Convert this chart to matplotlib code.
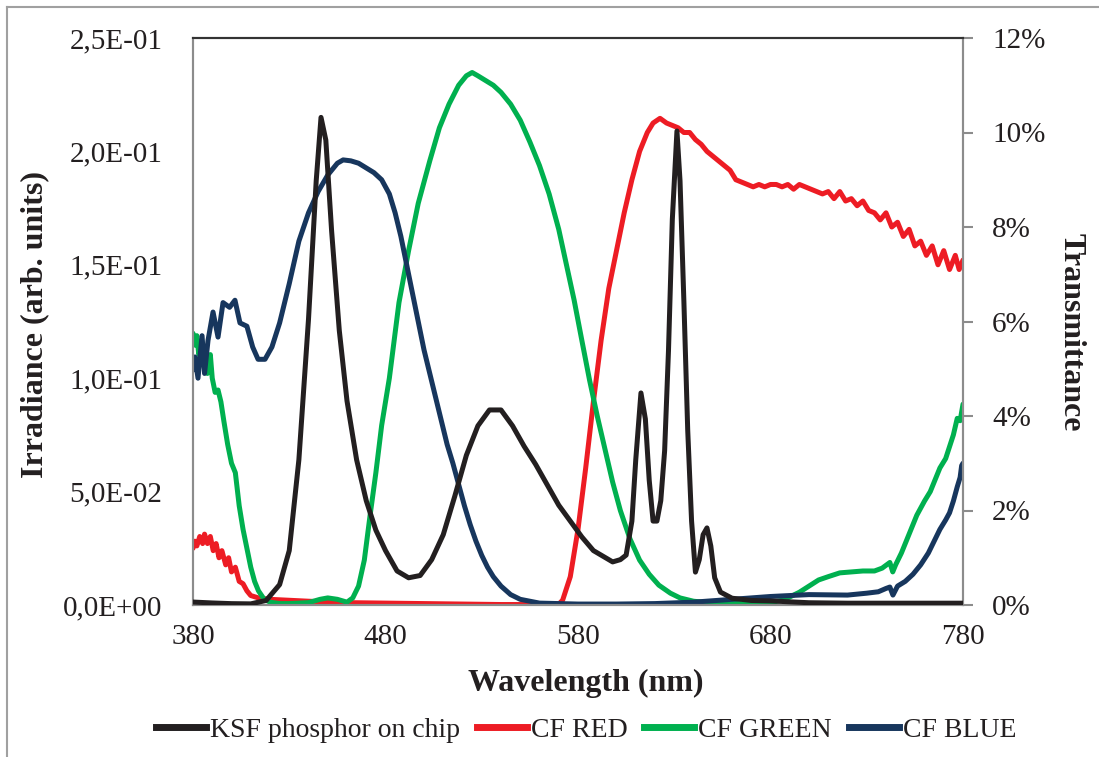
import matplotlib

matplotlib.use('Agg')
import matplotlib.pyplot as plt
from matplotlib.lines import Line2D

# KSF phosphor on chip, irradiance (left axis)
ksf_wl = [380, 390, 400, 410, 418, 425, 430, 435, 440, 444, 446.5, 449, 452, 456, 460,
          465, 470, 475, 480, 486, 492, 498, 504, 510, 516, 522, 528, 534, 540, 546,
          552, 558, 564, 570, 576, 582, 588, 594, 598, 602, 605, 608, 610, 612.7, 615,
          617, 619, 621, 623, 625, 627, 629, 631.4, 633, 635, 637, 639, 641, 643, 645,
          647, 649, 651, 654, 660, 670, 680, 700, 720, 740, 760, 780]
ksf_irr = [0.0013, 0.0009, 0.0006, 0.0005, 0.002, 0.009, 0.024, 0.064, 0.126, 0.187, 0.215,
           0.205, 0.165, 0.121, 0.090, 0.064, 0.046, 0.033, 0.024, 0.015, 0.012, 0.013,
           0.020, 0.031, 0.048, 0.066, 0.079, 0.086, 0.086, 0.079, 0.070, 0.062, 0.053,
           0.044, 0.037, 0.030, 0.024, 0.021, 0.019, 0.020, 0.022, 0.037, 0.064, 0.0935,
           0.082, 0.055, 0.037, 0.037, 0.046, 0.068, 0.112, 0.170, 0.209, 0.187, 0.134,
           0.077, 0.037, 0.0145, 0.020, 0.031, 0.034, 0.026, 0.012, 0.0057, 0.003, 0.002,
           0.0018, 0.001, 0.0008, 0.0008, 0.0008, 0.0008]

# colour filter transmittance in % (right axis)
red_wl = [380, 381, 382, 383.5, 385, 386, 387.5, 389, 390.5, 392, 393.5, 395, 397, 398.5,
          400, 402, 404, 406, 408, 410, 414, 420, 430, 440, 460, 480, 500, 520, 540, 560,
          570, 572, 576, 580, 584, 588, 592, 596, 600, 604, 608, 612, 616, 619, 622.6,
          626, 629, 632, 635, 638, 641, 644, 647, 650, 653, 656, 659, 662, 665, 668, 671,
          674, 677, 680, 683, 686, 689, 692, 695, 698, 701, 704, 707, 710, 713, 716, 719,
          722, 725, 728, 731, 734, 737, 740, 743, 746, 749, 752, 755, 758, 761, 764, 767,
          770, 773, 776, 778, 780]
red_tr = [1.2, 1.35, 1.25, 1.45, 1.3, 1.5, 1.3, 1.45, 1.15, 1.3, 1.0, 1.15, 0.85, 1.0,
          0.7, 0.8, 0.5, 0.45, 0.3, 0.2, 0.15, 0.12, 0.1, 0.08, 0.05, 0.04, 0.03, 0.02,
          0.01, 0.01, 0.02, 0.1, 0.6, 1.6, 2.9, 4.3, 5.6, 6.7, 7.5, 8.3, 9.0, 9.6, 10.0,
          10.2, 10.3, 10.2, 10.15, 10.1, 10.0, 10.0, 9.85, 9.75, 9.6, 9.5, 9.4, 9.3, 9.2,
          9.0, 8.95, 8.9, 8.85, 8.9, 8.85, 8.9, 8.9, 8.85, 8.9, 8.8, 8.9, 8.85, 8.8, 8.75,
          8.7, 8.75, 8.6, 8.75, 8.55, 8.6, 8.45, 8.55, 8.35, 8.3, 8.15, 8.3, 8.0, 8.1,
          7.8, 7.95, 7.6, 7.7, 7.4, 7.6, 7.2, 7.5, 7.1, 7.4, 7.1, 7.3]

green_wl = [380, 381, 382, 383, 384.5, 386, 387.5, 389, 390, 391.5, 393, 394.5, 396, 398,
            400, 402, 404, 406, 408, 410, 412, 414, 417, 420, 425, 430, 440, 446, 450,
            455, 460, 463, 466, 469, 472, 475, 478, 482, 487, 492, 497, 503, 508, 513,
            518, 522, 525, 528, 532, 536, 540, 545, 550, 555, 560, 565, 570, 574, 578,
            582, 586, 590, 594, 598, 602, 607, 612, 617, 622, 628, 633, 640, 650, 665,
            680, 686, 690, 695, 700, 705, 710, 716, 722, 728, 734, 738, 742, 743.5, 745,
            748, 752, 756, 760, 763, 766, 768, 771, 773, 775, 777, 778.5, 780]
green_tr = [5.75, 5.5, 5.7, 5.3, 5.6, 5.0, 4.9, 5.3, 4.8, 4.5, 4.55, 4.3, 3.9, 3.4,
            3.0, 2.8, 2.1, 1.6, 1.2, 0.8, 0.5, 0.3, 0.12, 0.06, 0.03, 0.03, 0.05, 0.12,
            0.15, 0.12, 0.06, 0.15, 0.4, 0.95, 1.9, 2.8, 3.8, 4.8, 6.4, 7.5, 8.5, 9.4,
            10.1, 10.6, 11.0, 11.2, 11.27, 11.2, 11.1, 11.0, 10.85, 10.6, 10.26, 9.8, 9.3,
            8.7, 7.95, 7.2, 6.45, 5.6, 4.76, 4.0, 3.3, 2.6, 2.0, 1.4, 0.95, 0.65, 0.42,
            0.25, 0.15, 0.08, 0.04, 0.03, 0.05, 0.1, 0.17, 0.27, 0.4, 0.53, 0.6, 0.68,
            0.7, 0.72, 0.72, 0.78, 0.9, 0.7, 0.85, 1.1, 1.5, 1.9, 2.2, 2.4, 2.7, 2.9,
            3.1, 3.35, 3.6, 3.95, 3.9, 4.25]

blue_wl = [380, 381, 382.6, 384.7, 386, 387.8, 390.4, 393, 395.6, 399, 401.8, 404.4, 408,
           411, 413.8, 417.4, 421, 425, 430, 435, 440, 445, 450, 455, 458, 462, 466, 470,
           474, 478, 482, 485, 488, 491, 494, 497, 500, 503, 506, 509, 512, 515, 518,
           521, 524, 527, 530, 533, 536, 540, 545, 550, 560, 580, 600, 620, 640, 660,
           680, 700, 720, 730, 736, 740, 742, 743.6, 746, 750, 754, 758, 762, 765, 768,
           771, 773, 775, 777, 778.5, 779.3, 780]
blue_tr = [4.97, 5.25, 4.8, 5.7, 4.9, 5.6, 6.2, 5.67, 6.4, 6.3, 6.45, 5.97, 5.9, 5.46,
           5.2, 5.2, 5.46, 5.97, 6.8, 7.7, 8.3, 8.75, 9.1, 9.35, 9.42, 9.4, 9.35, 9.25,
           9.15, 9.0, 8.7, 8.3, 7.8, 7.2, 6.6, 6.0, 5.4, 4.9, 4.4, 3.9, 3.4, 3.0, 2.55,
           2.1, 1.7, 1.35, 1.05, 0.8, 0.6, 0.4, 0.22, 0.12, 0.04, 0.02, 0.02, 0.03, 0.06,
           0.12, 0.18, 0.22, 0.21, 0.25, 0.28, 0.35, 0.38, 0.21, 0.4, 0.5, 0.65, 0.85,
           1.1, 1.35, 1.6, 1.8, 1.95, 2.2, 2.5, 2.7, 2.95, 3.0]

left_ticks = [0, 0.05, 0.10, 0.15, 0.20, 0.25]
left_labels = ['0,0E+00', '5,0E-02', '1,0E-01', '1,5E-01', '2,0E-01', '2,5E-01']
right_ticks = [0, 2, 4, 6, 8, 10, 12]
right_labels = ['0%', '2%', '4%', '6%', '8%', '10%', '12%']
x_ticks = [380, 480, 580, 680, 780]

C_BLACK = '#231f20'
C_RED = '#ed1c24'
C_GREEN = '#00b04f'
C_BLUE = '#17365d'
GRID = '#8c8c8c'

plt.rcParams['font.family'] = ['Liberation Serif', 'DejaVu Serif']

fig = plt.figure(figsize=(10.99, 7.57), dpi=100)
ax = fig.add_axes([193 / 1099, 1 - 605 / 757, 770 / 1099, 567 / 757])
ax2 = ax.twinx()

lw = 3.6
ax.plot(ksf_wl, ksf_irr, color=C_BLACK, lw=lw, zorder=3, solid_capstyle='round',
        solid_joinstyle='round')
for wl, tr, c in ((red_wl, red_tr, C_RED), (green_wl, green_tr, C_GREEN),
                  (blue_wl, blue_tr, C_BLUE)):
    ax2.plot(wl, tr, color=c, lw=lw, solid_capstyle='round', solid_joinstyle='round')
ax.set_zorder(ax2.get_zorder() + 1)
ax.patch.set_visible(False)

ax.set_xlim(380, 780)
ax.set_ylim(0, 0.25)
ax2.set_ylim(0, 12)

ax.set_xticks(x_ticks)
ax.set_yticks(left_ticks)
ax.set_yticklabels(left_labels)
ax2.set_yticks(right_ticks)
ax2.set_yticklabels(right_labels)

ax.tick_params(axis='both', length=0, labelsize=21, colors='#231f20')
ax.tick_params(axis='y', pad=22)
ax.tick_params(axis='x', pad=14)
ax2.tick_params(axis='y', length=7, width=1.5, color=GRID, direction='out',
                labelsize=21, labelcolor='#231f20', pad=14)

for a in (ax, ax2):
    for side in ('left', 'right', 'bottom'):
        a.spines[side].set_color(GRID)
        a.spines[side].set_linewidth(1.5)
    a.spines['top'].set_color('#333333')
    a.spines['top'].set_linewidth(1.5)

fig.text(35 / 1099, 1 - 324 / 757, 'Irradiance (arb. units)', rotation=90,
         ha='center', va='center', fontsize=23, fontweight='bold', color='#231f20')
fig.text(1071 / 1099, 1 - 332 / 757, 'Transmittance', rotation=-90,
         ha='center', va='center', fontsize=23, fontweight='bold', color='#231f20')
fig.text(586 / 1099, 1 - 683 / 757, 'Wavelength (nm)', ha='center', va='center',
         fontsize=23, fontweight='bold', color='#231f20')

handles = [Line2D([], [], color=c, lw=5) for c in (C_BLACK, C_RED, C_GREEN, C_BLUE)]
fig.legend(handles, ['KSF phosphor on chip', 'CF RED', 'CF GREEN', 'CF BLUE'],
           loc='center', bbox_to_anchor=(586 / 1099, 1 - 730 / 757), ncol=4,
           frameon=False, fontsize=20, handlelength=1.8, handletextpad=0.15,
           columnspacing=0.6, labelcolor='#231f20')

# outer chart frame (cut at right and bottom in the reference)
fig.add_artist(Line2D([7 / 1099, 7 / 1099], [0, 1 - 7 / 757], color='#a0a0a0', lw=1.5,
                      transform=fig.transFigure))
fig.add_artist(Line2D([7 / 1099, 1], [1 - 7 / 757, 1 - 7 / 757], color='#a0a0a0', lw=1.5,
                      transform=fig.transFigure))

fig.savefig('out.png', dpi=100)
plt.close(fig)
